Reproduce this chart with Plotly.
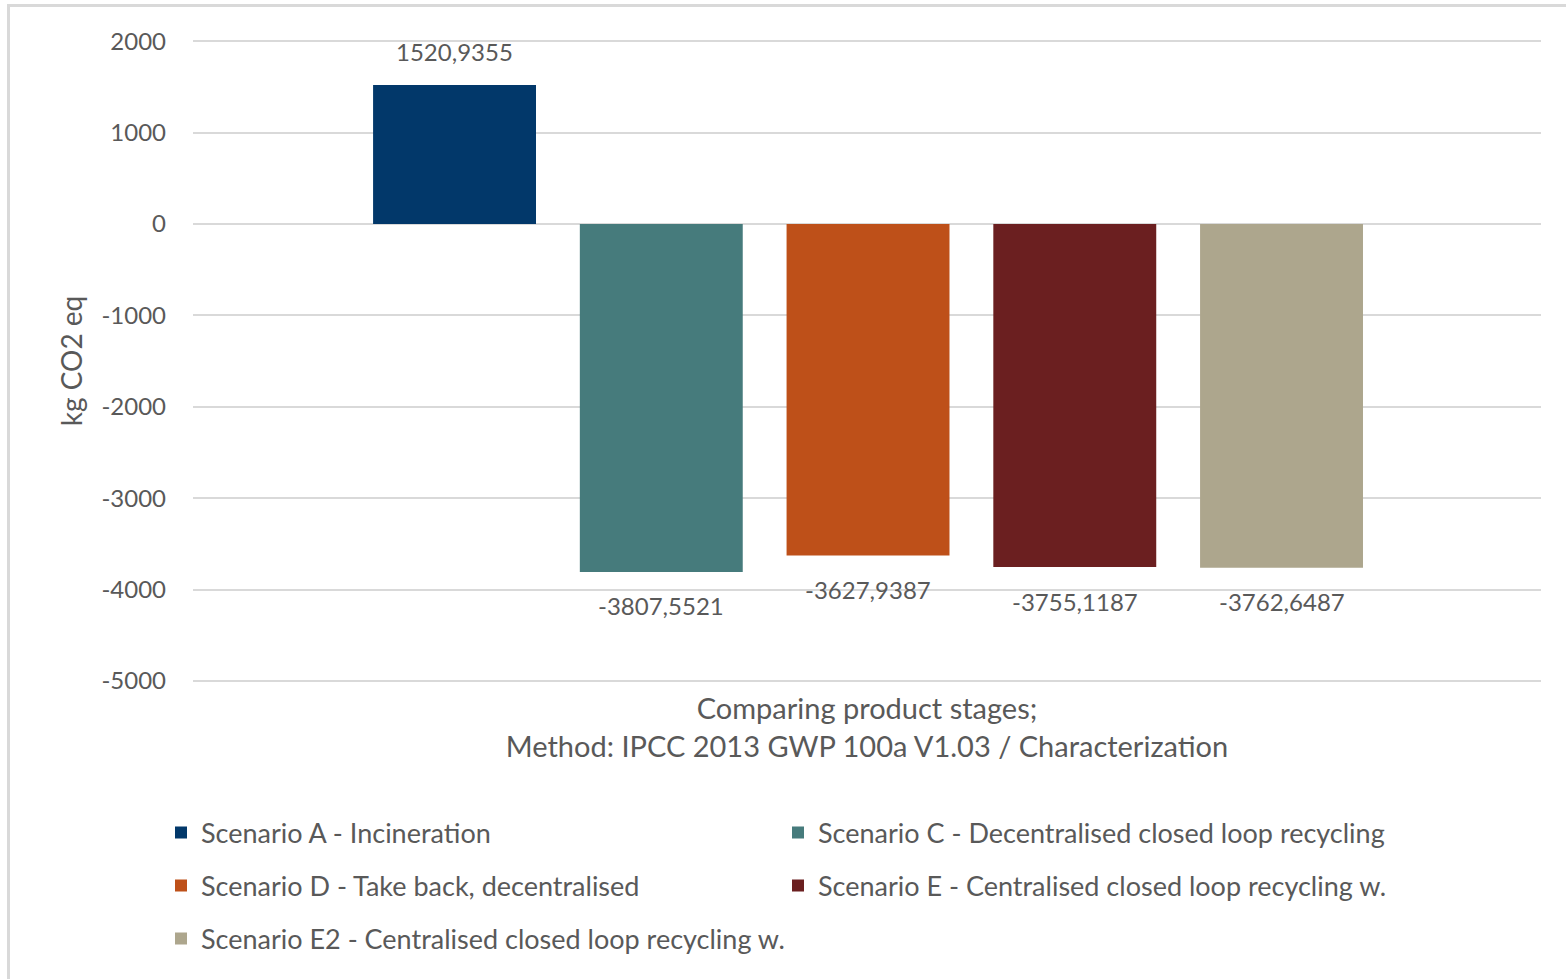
import plotly.graph_objects as go

# Scenario results, kg CO2 eq (IPCC 2013 GWP 100a)
scenarios = [
    "Scenario A - Incineration",
    "Scenario C - Decentralised closed loop recycling",
    "Scenario D - Take back, decentralised",
    "Scenario E - Centralised closed loop recycling w.",
    "Scenario E2 - Centralised closed loop recycling w.",
]
values = [1520.9355, -3807.5521, -3627.9387, -3755.1187, -3762.6487]
colors = ["#02386a", "#467b7c", "#be5019", "#6b1f20", "#ada68d"]
y_ticks = [2000, 1000, 0, -1000, -2000, -3000, -4000, -5000]
x_title = "Comparing product stages;<br>Method: IPCC 2013 GWP 100a V1.03 / Characterization"
y_title = "kg CO2 eq"

TEXT = "#595959"
GRID = "#d9d9d9"
FONT = "Lato"

W, H = 1566, 979
L, R, T, B = 193, 25, 40, 297
PW, PH = W - L - R, H - T - B


def px_to_paper_x(px):
    return (px - L) / PW


def px_to_paper_y(py):
    return (H - B - py) / PH


# legend slots: two columns, three rows
legend_names = ["legend", "legend2", "legend3", "legend4", "legend5"]
col_x = [161, 778]
row_y = [833, 886, 939]
slots = [(0, 0), (1, 0), (0, 1), (1, 1), (0, 2)]

fig = go.Figure()
for i, (name, val, col) in enumerate(zip(scenarios, values, colors)):
    fig.add_trace(go.Bar(
        x=[name], y=[val], name=name,
        marker=dict(color=col, line=dict(width=0)),
        legend=legend_names[i],
        hoverinfo="x+y",
    ))

# value labels
for name, val in zip(scenarios, values):
    fig.add_annotation(
        x=name, y=val, text=f"{val:.4f}".replace(".", ","),
        showarrow=False, yanchor="middle",
        yshift=33 if val > 0 else -34,
        font=dict(family=FONT, size=24, color=TEXT),
    )

legend_layout = {}
for ln, (c, r) in zip(legend_names, slots):
    legend_layout[ln] = dict(
        x=px_to_paper_x(col_x[c]), y=px_to_paper_y(row_y[r]),
        xanchor="left", yanchor="middle",
        bgcolor="rgba(0,0,0,0)", borderwidth=0,
        font=dict(family=FONT, size=27, color=TEXT),
        itemclick=False, itemdoubleclick=False,
    )

# outer chart border
fig.add_shape(
    type="rect", xref="paper", yref="paper",
    x0=px_to_paper_x(8.5), x1=1.1, y0=-0.7, y1=px_to_paper_y(5.5),
    line=dict(color=GRID, width=3), fillcolor="rgba(0,0,0,0)", layer="below",
)

fig.update_layout(
    width=W, height=H,
    margin=dict(l=L, r=R, t=T, b=B, autoexpand=False),
    paper_bgcolor="white", plot_bgcolor="white",
    barmode="overlay", bargap=0.212,
    font=dict(family=FONT, color=TEXT),
    showlegend=True,
    **legend_layout,
)

fig.update_xaxes(
    type="category", range=[-1.265, 5.255],
    showticklabels=False, showgrid=False, zeroline=False, showline=False,
    ticks="",
    title=dict(text=x_title, font=dict(family=FONT, size=29, color=TEXT), standoff=16),
    automargin=False,
)
fig.update_yaxes(
    range=[-5012, 2012], tickvals=y_ticks, ticktext=[str(v) for v in y_ticks],
    showgrid=True, gridcolor=GRID, gridwidth=2,
    zeroline=True, zerolinecolor=GRID, zerolinewidth=2,
    showline=False, ticks="", ticklabelstandoff=26,
    tickfont=dict(family=FONT, size=24, color=TEXT),
    title=dict(text=y_title, font=dict(family=FONT, size=28, color=TEXT), standoff=10),
    automargin=False,
)

fig.write_html("out.html")
